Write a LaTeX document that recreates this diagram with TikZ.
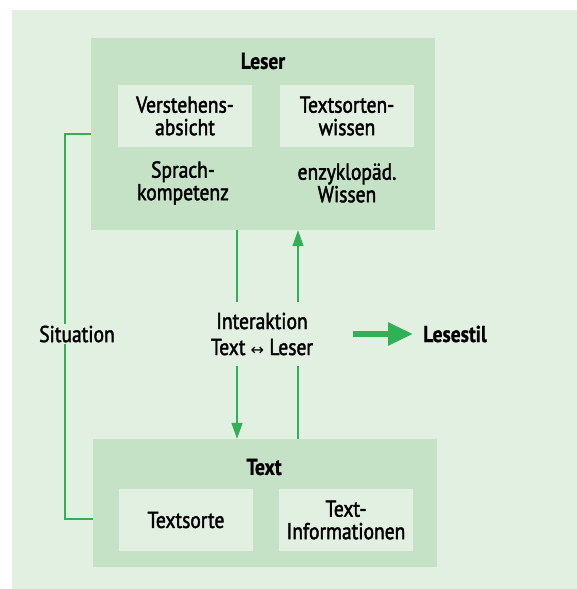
\documentclass[tikz,border=0pt]{standalone}
\usepackage{fontspec}
\setmainfont{PT Sans}
\newfontfamily\bodyfont{PT Sans}[FakeStretch=0.85, FakeBold=1.8]
\newfontfamily\titlefont{PT Sans}[FakeStretch=0.85, BoldFeatures={FakeBold=0.8}]
\newfontfamily\symbolfont{DejaVu Sans}[Scale=0.7]
\usetikzlibrary{arrows.meta}
\definecolor{bggreen}{RGB}{226,240,226}
\definecolor{boxgreen}{RGB}{197,226,199}
\definecolor{linegreen}{RGB}{50,176,85}
\tikzset{
  outerbox/.style={fill=boxgreen, inner sep=0pt},
  innerbox/.style={fill=bggreen, inner sep=0pt, minimum width=134pt, minimum height=62pt, align=center, font=\fontsize{23}{22.5}\bodyfont},
  plaintext/.style={inner sep=0pt, align=center, font=\fontsize{23}{22.5}\bodyfont},
  titletext/.style={inner sep=0pt, font=\fontsize{23}{22.5}\titlefont\bfseries},
  link/.style={draw=linegreen, line width=1.6pt},
  linkarrow/.style={link, -{Triangle[length=16pt,width=11pt]}},
  bigarrow/.style={draw=linegreen, line width=5.5pt, -{Triangle[length=25pt,width=22pt]}},
}
\begin{document}
\begin{tikzpicture}[x=1pt,y=-1pt]
  \useasboundingbox (0,0) rectangle (577,589);
  \fill[bggreen] (12,10) rectangle (577,589);

  % Drawing box Leser
  \node[outerbox, minimum width=344pt, minimum height=192pt] (leser) at (263,134) {};
  \node[titletext] (leserlabel) at (263,61) {Leser};
  \node[innerbox] (verstehen) at (185,116) {Verstehens-\\absicht};
  \node[innerbox] (sortenwissen) at (347,116) {Textsorten-\\wissen};
  \node[plaintext] (sprache) at (183,183) {Sprach-\\kompetenz};
  \node[plaintext] (weltwissen) at (347,183) {enzyklopäd.\\Wissen};

  % Drawing box Text
  \node[outerbox, minimum width=344pt, minimum height=128pt] (text) at (265,503) {};
  \node[titletext] (textlabel) at (264,467) {Text};
  \node[innerbox] (textsorte) at (186,520) {Textsorte};
  \node[innerbox] (textinfo) at (346,520) {Text-\\Informationen};

  % Marking Interaktion
  \node[plaintext, minimum height=63pt, font=\fontsize{23}{26}\bodyfont] (interaktion) at (262,334) {Interaktion\\Text {\symbolfont ↔} Leser};
  \coordinate (dn) at (237,0);
  \coordinate (up) at (298,0);
  \draw[link] (leser.south -| dn) -- (interaktion.north -| dn);
  \draw[linkarrow] (interaktion.south -| dn) -- (text.north -| dn);
  \draw[link] (text.north -| up) -- (interaktion.south -| up);
  \draw[linkarrow] (interaktion.north -| up) -- (leser.south -| up);

  % Drawing line Situation
  \draw[link] (leser.west) -- ++(-26,0) |- ([yshift=-16pt]text.west);
  \node[plaintext, fill=bggreen, inner sep=2pt] (situation) at (77,334) {Situation};

  % Drawing arrow Lesestil
  \coordinate (stilstart) at (353,334);
  \node[titletext, anchor=west] (lesestil) at (423,334) {Lesestil};
  \draw[bigarrow] (stilstart) -- ([xshift=-10pt]lesestil.west);
\end{tikzpicture}
\end{document}
